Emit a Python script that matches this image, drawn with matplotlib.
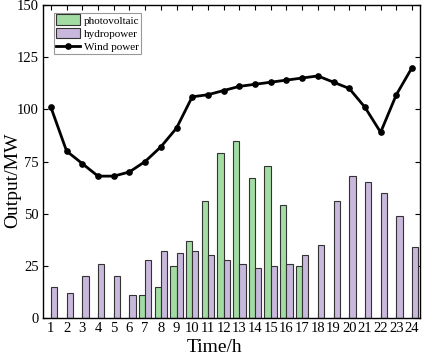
import matplotlib
matplotlib.use("Agg")
import matplotlib.pyplot as plt
import numpy as np

hours = list(range(1, 25))
wind = [101, 80, 74, 68, 68, 70, 75, 82, 91, 106, 107, 109, 111, 112, 113, 114, 115, 116, 113, 110, 101, 89, 107, 120]
pv_hours = [7, 8, 9, 10, 11, 12, 13, 14, 15, 16, 17]
pv = [11, 15, 25, 37, 56, 79, 85, 67, 73, 54, 25]
hydro = [15, 12, 20, 26, 20, 11, 28, 32, 31, 32, 30, 28, 26, 24, 25, 26, 30, 35, 56, 68, 65, 60, 49, 34]

plt.rcParams['font.family'] = ['Liberation Serif', 'DejaVu Serif']

fig = plt.figure(figsize=(4.22, 3.55), dpi=100)
ax = fig.add_axes([0.102, 0.104, 0.893, 0.882])

w = 0.4
hb = np.array(hours, dtype=float)
pb = np.array(pv_hours, dtype=float)
b1 = ax.bar(pb - w / 2, pv, width=w, color='#a3dca3', edgecolor='#333333', linewidth=0.8, label='photovoltaic', zorder=2)
b2 = ax.bar(hb + w / 2, hydro, width=w, color='#c8b8dc', edgecolor='#333333', linewidth=0.8, label='hydropower', zorder=2)
l1, = ax.plot(hours, wind, color='black', linewidth=2, marker='o', markersize=3.8, label='Wind power', zorder=3)

ax.set_xlim(0.5, 24.5)
ax.set_ylim(0, 150)
ax.set_xticks(hours)
ax.set_yticks([0, 25, 50, 75, 100, 125, 150])
ax.tick_params(axis='both', direction='in', labelsize=10.5, length=3.5, width=0.8, top=True, right=True, pad=3)
ax.tick_params(axis='x', pad=3)
for s in ax.spines.values():
    s.set_linewidth(1.0)

ax.set_xlabel('Time/h', fontsize=14)
ax.set_ylabel('Output/MW', fontsize=14)
ax.xaxis.set_label_coords(0.456, -0.066)
ax.yaxis.set_label_coords(-0.058, 0.44)

leg = ax.legend(handles=[b1, b2, l1], loc='upper left', bbox_to_anchor=(0.03, 0.975), fontsize=8,
                frameon=True, fancybox=False, edgecolor='#999999', framealpha=1,
                borderpad=0.15, labelspacing=0.2, handlelength=2.2, handleheight=1.1,
                handletextpad=0.3, borderaxespad=0.0)
leg.get_frame().set_linewidth(0.8)

fig.savefig('out.png', dpi=100)
